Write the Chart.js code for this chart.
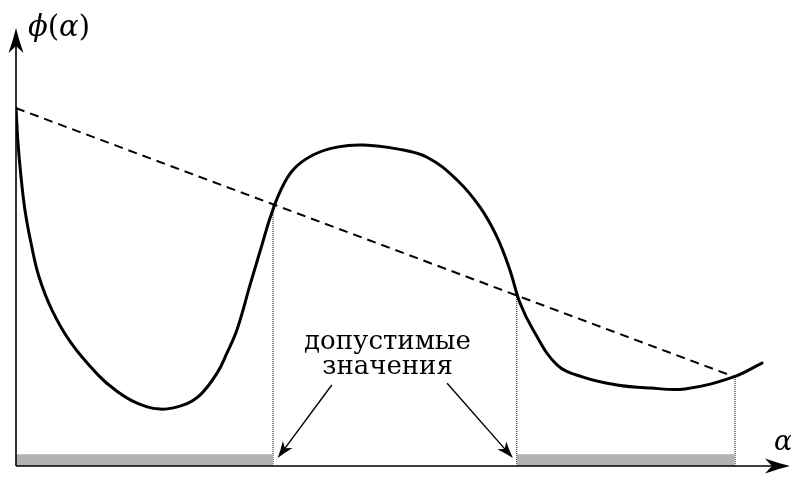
<!DOCTYPE html>
<html lang="ru">
<head>
  <meta charset="UTF-8" />
  <title>Допустимые значения шага</title>
  <script src="https://cdn.jsdelivr.net/npm/chart.js"></script>
  <style>
    body {
      margin: 0;
      background: #ffffff;
    }
    #wrap {
      width: 791px;
      height: 477px;
    }
  </style>
</head>
<body>
  <div id="wrap"><canvas id="phiChart"></canvas></div>

  <script>
    // phi(alpha) curve
    const alphaPts = [0, 0.026, 0.065, 0.116, 0.194, 0.297, 0.465, 0.711, 1.059, 1.279, 1.537, 1.860,
      2.158, 2.377, 2.597, 2.726, 2.855, 3.023, 3.178, 3.282, 3.411, 3.579, 3.837, 4.147, 4.483,
      4.922, 5.310, 5.698, 5.995, 6.214, 6.382, 6.512, 6.680, 6.990, 7.326, 7.765, 8.191, 8.643,
      9.264, 9.638];
    const phiPts = [8.17, 7.37, 6.60, 5.84, 5.09, 4.32, 3.56, 2.81, 2.08, 1.74, 1.46, 1.30,
      1.39, 1.62, 2.12, 2.58, 3.11, 4.13, 5.05, 5.66, 6.26, 6.76, 7.10, 7.28, 7.33,
      7.24, 7.05, 6.53, 5.91, 5.23, 4.47, 3.72, 3.11, 2.31, 2.03, 1.85, 1.78, 1.76,
      2.03, 2.35];

    // dashed secant line
    const secantAlpha = [0, 9.29];
    const secantPhi = [8.17, 2.03];

    // crossings of the curve and the secant
    const crossAlpha = [3.32, 6.47, 9.29];
    const crossPhi = [5.96, 3.90, 2.03];

    // grey strips on the alpha axis (not admissible)
    const stripFrom = [0, 6.47];
    const stripTo = [3.32, 9.29];
    const stripHeight = 0.27;

    // caption and its two arrows
    const captionLines = ["допустимые", "значения"];
    const captionAlpha = 4.80;
    const captionPhi = [2.67, 2.10];
    const arrowTail = [[4.08, 1.85], [5.57, 1.89]];
    const arrowTip = [[3.38, 0.18], [6.42, 0.18]];

    const xMax = 10, yMax = 10;

    const datasets = [];

    stripFrom.forEach((a, i) => {
      datasets.push({
        data: [{ x: a, y: stripHeight }, { x: stripTo[i], y: stripHeight }],
        borderWidth: 0,
        backgroundColor: "#b3b3b3",
        fill: "origin",
        pointRadius: 0
      });
    });

    crossAlpha.forEach((a, i) => {
      datasets.push({
        data: [{ x: a, y: 0 }, { x: a, y: crossPhi[i] }],
        borderColor: "#000",
        borderWidth: 1,
        borderDash: [1, 1],
        pointRadius: 0
      });
    });

    datasets.push({
      data: secantAlpha.map((a, i) => ({ x: a, y: secantPhi[i] })),
      borderColor: "#000",
      borderWidth: 2,
      borderDash: [9, 6],
      pointRadius: 0
    });

    datasets.push({
      data: alphaPts.map((a, i) => ({ x: a, y: phiPts[i] })),
      borderColor: "#000",
      borderWidth: 3,
      tension: 0.4,
      borderCapStyle: "round",
      borderJoinStyle: "round",
      pointRadius: 0
    });

    // LaTeX-like arrow head with a notched back
    function arrowHead(ctx, x1, y1, x2, y2, len, half) {
      const ang = Math.atan2(y2 - y1, x2 - x1);
      ctx.save();
      ctx.translate(x2, y2);
      ctx.rotate(ang);
      ctx.beginPath();
      ctx.moveTo(0, 0);
      ctx.quadraticCurveTo(-len * 0.45, -half * 0.35, -len, -half);
      ctx.lineTo(-len * 0.72, 0);
      ctx.lineTo(-len, half);
      ctx.quadraticCurveTo(-len * 0.45, half * 0.35, 0, 0);
      ctx.closePath();
      ctx.fill();
      ctx.restore();
    }

    const decorations = {
      id: "decorations",
      afterDatasetsDraw(chart) {
        const { ctx, chartArea, scales } = chart;
        const sx = scales.x, sy = scales.y;
        const x0 = sx.getPixelForValue(0);
        const y0 = sy.getPixelForValue(0);
        ctx.save();
        ctx.strokeStyle = "#000";
        ctx.fillStyle = "#000";
        ctx.lineWidth = 1.6;

        // axes with arrows
        ctx.beginPath();
        ctx.moveTo(x0, y0);
        ctx.lineTo(x0, chartArea.top + 14);
        ctx.moveTo(x0, y0);
        ctx.lineTo(chartArea.right - 14, y0);
        ctx.stroke();
        arrowHead(ctx, x0, y0, x0, chartArea.top, 25, 7.5);
        arrowHead(ctx, x0, y0, chartArea.right, y0, 25, 7.5);

        // arrows from the caption
        ctx.lineWidth = 1.4;
        arrowTail.forEach((t, i) => {
          const ax = sx.getPixelForValue(t[0]), ay = sy.getPixelForValue(t[1]);
          const bx = sx.getPixelForValue(arrowTip[i][0]), by = sy.getPixelForValue(arrowTip[i][1]);
          const ang = Math.atan2(by - ay, bx - ax);
          ctx.beginPath();
          ctx.moveTo(ax, ay);
          ctx.lineTo(bx - Math.cos(ang) * 10, by - Math.sin(ang) * 10);
          ctx.stroke();
          arrowHead(ctx, ax, ay, bx, by, 17, 6);
        });

        // caption
        ctx.font = "26px 'DejaVu Serif'";
        ctx.textAlign = "center";
        ctx.textBaseline = "alphabetic";
        captionLines.forEach((s, i) => {
          ctx.fillText(s, sx.getPixelForValue(captionAlpha), sy.getPixelForValue(captionPhi[i]));
        });

        // axis names: phi(alpha) and alpha
        const parts = [["ϕ", "italic"], ["(", "normal"], ["α", "italic"], [")", "normal"]];
        let tx = x0 + 12;
        ctx.textAlign = "left";
        parts.forEach(([s, st]) => {
          ctx.font = st + " 29px 'DejaVu Serif'";
          ctx.fillText(s, tx, 36);
          tx += ctx.measureText(s).width;
        });
        ctx.font = "italic 27px 'DejaVu Serif'";
        ctx.fillText("α", chartArea.right - 16, y0 - 16);
        ctx.restore();
      }
    };

    new Chart(document.getElementById("phiChart"), {
      type: "line",
      data: { datasets },
      options: {
        responsive: true,
        maintainAspectRatio: false,
        animation: false,
        layout: { padding: { left: 16, right: 1, top: 28, bottom: 11 } },
        plugins: { legend: { display: false }, tooltip: { enabled: false } },
        scales: {
          x: { type: "linear", min: 0, max: xMax, display: false },
          y: { type: "linear", min: 0, max: yMax, display: false }
        }
      },
      plugins: [decorations]
    });
  </script>
</body>
</html>
